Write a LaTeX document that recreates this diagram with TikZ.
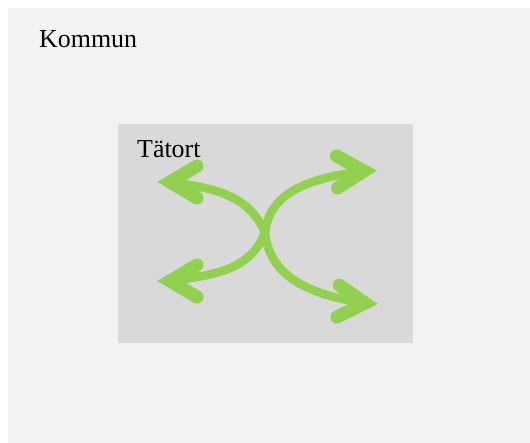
\documentclass[tikz,border=0pt]{standalone}
\usepackage{fontspec}
\setmainfont{Liberation Serif}
\definecolor{kommungray}{HTML}{F2F2F2}
\definecolor{tatortgray}{HTML}{D9D9D9}
\definecolor{flowgreen}{HTML}{92D050}
\tikzset{
  flow/.style = {draw = flowgreen, line width = 8.5bp, line cap = round},
  areatext/.style = {anchor = base west, inner sep = 0, font = \fontsize{26}{30}\selectfont},
  head/.pic = {
    \draw [flowgreen, line width = 13bp, line cap = round, line join = miter]
      (-27, 16) -- (0, 0) -- (-27, -16);
  }
}
\begin{document}
\begin{tikzpicture}[x = 1bp, y = 1bp]
  \useasboundingbox (0, 0) rectangle (530, 443);
  \fill [kommungray] (8, 0) rectangle (530, 435);
  \fill [tatortgray] (118, 100) rectangle (413, 319);
  \node [areatext] (kommun) at (39, 395) {Kommun};
  \node [areatext] (tatort) at (137, 285) {Tätort};

  \coordinate (mid) at (265, 210);
  \coordinate (ul) at (170, 261);
  \coordinate (ll) at (170, 162);
  \coordinate (ur) at (364, 272);
  \coordinate (lr) at (365, 140);

  \draw [flow] (mid) to [out = 112, in = -8] (ul);
  \draw [flow] (mid) to [out = -112, in = 8] (ll);
  \draw [flow] (mid) to [out = 84, in = 188] (ur);
  \draw [flow] (mid) to [out = -84, in = 172] (lr);
  \pic [rotate = 180] at (ul) {head};
  \pic [rotate = 180] at (ll) {head};
  \pic [rotate = 2] at (ur) {head};
  \pic [rotate = -4] at (lr) {head};
\end{tikzpicture}
\end{document}
